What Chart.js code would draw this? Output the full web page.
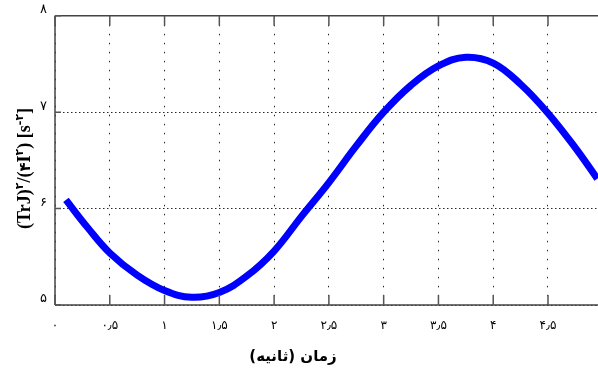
<!DOCTYPE html>
<html>
<head>
<meta charset="utf-8">
<script src="https://cdn.jsdelivr.net/npm/chart.js@4"></script>
<style>
  html, body { margin: 0; padding: 0; background: #fff; overflow: hidden; }
  #wrap { width: 620px; height: 371px; }
</style>
</head>
<body>
<div id="wrap"><canvas id="c" width="620" height="371"></canvas></div>
<script>
// ---- data ----
const timeValues = [0.1, 0.3, 0.5, 0.75, 1.0, 1.25, 1.5, 1.75, 2.0, 2.25, 2.5, 2.75, 3.0, 3.25, 3.5, 3.75, 4.0, 4.25, 4.5, 4.75, 4.95];
const ratioValues = [6.09, 5.80, 5.54, 5.31, 5.15, 5.08, 5.13, 5.30, 5.56, 5.92, 6.27, 6.65, 7.00, 7.28, 7.48, 7.57, 7.51, 7.29, 6.99, 6.63, 6.31];
const xTickLabels = ['۰', '۰٫۵', '۱', '۱٫۵', '۲', '۲٫۵', '۳', '۳٫۵', '۴', '۴٫۵', '۵'];
const yTickLabels = ['۵', '۶', '۷', '۸'];
const xTitle = 'زمان (ثانیه)';
const yTitleParts = [
  { t: '(TrJ)', sup: false, fa: false },
  { t: '۲', sup: true },
  { t: '/(', sup: false, fa: false },
  { t: '۴', sup: false, fa: true },
  { t: 'I', sup: false, fa: false },
  { t: '۲', sup: true },
  { t: ') [s', sup: false, fa: false },
  { t: '-۲', sup: true },
  { t: ']', sup: false, fa: false }
];

const points = timeValues.map((x, i) => ({ x: x, y: ratioValues[i] }));
const FRAME = '#444';

const framePlugin = {
  id: 'frame',
  afterDatasetsDraw(chart) {
    const { ctx, chartArea: a, scales: { x, y } } = chart;
    ctx.save();
    ctx.strokeStyle = FRAME;
    ctx.lineWidth = 1.5;
    ctx.beginPath();
    ctx.moveTo(a.left, a.top); ctx.lineTo(a.right + 20, a.top);
    ctx.moveTo(a.left, a.top); ctx.lineTo(a.left, a.bottom);
    ctx.moveTo(a.left, a.bottom); ctx.lineTo(a.right + 20, a.bottom);
    ctx.stroke();
    ctx.strokeStyle = '#555';
    ctx.beginPath();
    x.ticks.forEach(t => {
      const px = x.getPixelForValue(t.value);
      ctx.moveTo(px, a.bottom); ctx.lineTo(px, a.bottom - 10);
      ctx.moveTo(px, a.top); ctx.lineTo(px, a.top + 10);
    });
    y.ticks.forEach(t => {
      const py = y.getPixelForValue(t.value);
      ctx.moveTo(a.left, py); ctx.lineTo(a.left + 6, py);
    });
    ctx.stroke();
    ctx.restore();
  },
  afterDraw(chart) {
    const { ctx, chartArea: a } = chart;
    ctx.save();
    // x title
    ctx.fillStyle = '#000';
    ctx.font = 'bold 15px "DejaVu Sans"';
    ctx.direction = 'rtl';
    ctx.textAlign = 'center';
    ctx.textBaseline = 'middle';
    ctx.fillText(xTitle, a.left + 238, 357);
    // y title (rotated)
    ctx.direction = 'ltr';
    ctx.textAlign = 'left';
    ctx.textBaseline = 'alphabetic';
    const fontFor = p => p.sup ? 'bold 11px "DejaVu Sans"' : (p.fa ? 'bold 15px "DejaVu Sans"' : 'bold 18px "Liberation Serif"');
    let total = 0;
    yTitleParts.forEach(p => { ctx.font = fontFor(p); total += ctx.measureText(p.t).width; });
    ctx.translate(30, (a.top + a.bottom) / 2 + 8);
    ctx.rotate(-Math.PI / 2);
    let cx = -total / 2;
    yTitleParts.forEach(p => {
      ctx.font = fontFor(p);
      ctx.fillText(p.t, cx, p.sup ? -7 : 0);
      cx += ctx.measureText(p.t).width;
    });
    ctx.restore();
  }
};

new Chart(document.getElementById('c'), {
  type: 'line',
  data: {
    datasets: [{
      data: points,
      borderColor: '#0000ff',
      borderWidth: 7,
      pointRadius: 0,
      tension: 0.4,
      fill: false
    }]
  },
  options: {
    responsive: false,
    devicePixelRatio: 1,
    animation: false,
    layout: { padding: { top: 15, right: 15, left: 0, bottom: 0 } },
    plugins: { legend: { display: false }, tooltip: { enabled: false } },
    scales: {
      x: {
        type: 'linear',
        min: 0, max: 5,
        afterFit: s => { s.height = 66; },
        afterBuildTicks: s => { s.ticks = xTickLabels.map((_, i) => ({ value: i * 0.5 })); },
        ticks: {
          callback: (v, i) => xTickLabels[i],
          font: { family: 'DejaVu Sans', size: 12 },
          color: '#000',
          padding: 14,
          maxRotation: 0,
          autoSkip: false
        },
        grid: { color: 'rgba(0,0,0,0.85)', lineWidth: 1, drawTicks: false },
        border: { display: false, dash: [1.5, 7.5] }
      },
      y: {
        min: 5, max: 8,
        afterFit: s => { s.width = 55; },
        afterBuildTicks: s => { s.ticks = yTickLabels.map((_, i) => ({ value: 5 + i })); },
        ticks: {
          callback: (v, i) => yTickLabels[i],
          font: { family: 'DejaVu Sans', size: 13 },
          color: '#000',
          padding: 8,
          labelOffset: -6
        },
        grid: { color: 'rgba(0,0,0,0.85)', lineWidth: 1, drawTicks: false },
        border: { display: false, dash: [1.5, 2.5] }
      }
    }
  },
  plugins: [framePlugin]
});
</script>
</body>
</html>
